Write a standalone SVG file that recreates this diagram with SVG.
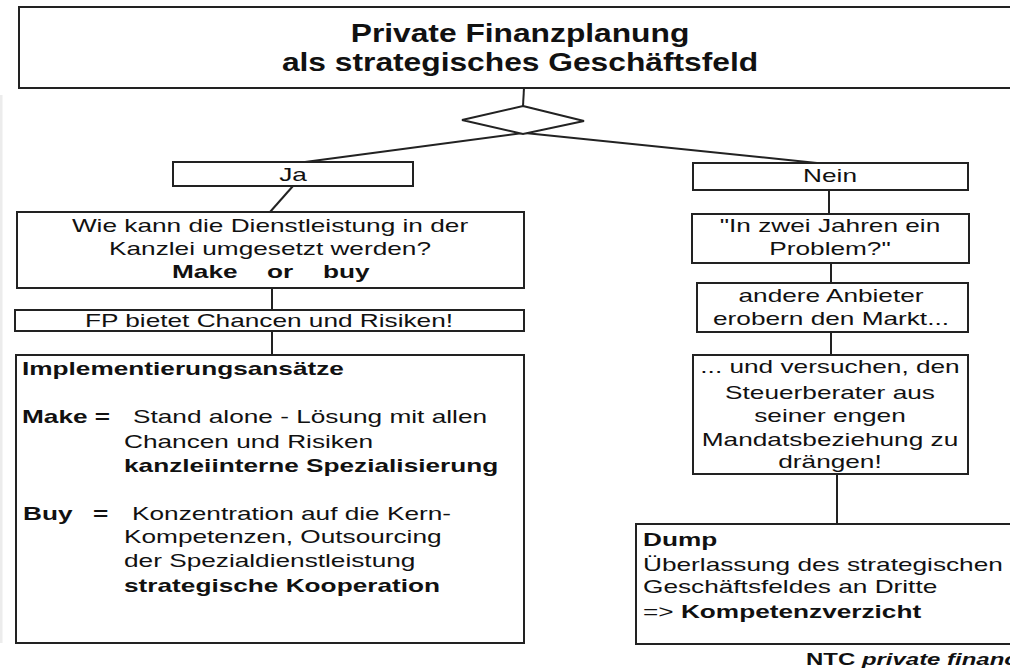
<svg xmlns="http://www.w3.org/2000/svg" width="1010" height="669" viewBox="0 0 1010 669">
<style>
.box{fill:#fff;stroke:#222;stroke-width:2}
.ln{fill:none;stroke:#222;stroke-width:2}
.t{font-family:"Liberation Sans",Arial,sans-serif;font-size:18.6px;fill:#111}
.b{font-family:"Liberation Sans",Arial,sans-serif;font-size:18.6px;font-weight:bold;fill:#111}
.h{font-family:"Liberation Sans",Arial,sans-serif;font-size:25px;font-weight:bold;fill:#111}
.m{text-anchor:middle}
</style>
<rect width="1010" height="669" fill="#fff"/>
<rect x="0" y="95" width="2.5" height="548" fill="#ececec"/>
<g id="connectors">
<line class="ln" x1="524" y1="88" x2="523" y2="106"/>
<line class="ln" x1="523" y1="133" x2="305" y2="162"/>
<line class="ln" x1="525" y1="133" x2="817" y2="163"/>
<line class="ln" x1="293" y1="186" x2="270" y2="212"/>
<line class="ln" x1="272" y1="288" x2="272" y2="310"/>
<line class="ln" x1="272" y1="331" x2="272" y2="355"/>
<line class="ln" x1="829" y1="190" x2="829" y2="214"/>
<line class="ln" x1="831" y1="263" x2="831" y2="283"/>
<line class="ln" x1="831" y1="332" x2="831" y2="355"/>
<line class="ln" x1="837" y1="474" x2="837" y2="524"/>
</g>
<g id="title">
<rect class="box" x="19" y="7" width="1010" height="81"/>
<text class="h m" transform="matrix(1.27 0 0 1 520 42)">Private Finanzplanung</text>
<text class="h m" transform="matrix(1.27 0 0 1 520 71)">als strategisches Geschäftsfeld</text>
</g>
<g id="decision">
<polygon class="box" points="523,106 584,121 523,134 462,120"/>
</g>
<g id="ja">
<rect class="box" x="173" y="162" width="240" height="24"/>
<text class="t m" transform="matrix(1.41 0 0 1 293 181)">Ja</text>
</g>
<g id="nein">
<rect class="box" x="693" y="163" width="275" height="27"/>
<text class="t m" transform="matrix(1.41 0 0 1 830 182)">Nein</text>
</g>
<g id="wie">
<rect class="box" x="17" y="212" width="507" height="76"/>
<text class="t m" transform="matrix(1.41 0 0 1 270 231.7)">Wie kann die Dienstleistung in der</text>
<text class="t m" transform="matrix(1.41 0 0 1 270 255)">Kanzlei umgesetzt werden?</text>
<text class="b" transform="matrix(1.41 0 0 1 172 278)">Make</text>
<text class="b" transform="matrix(1.41 0 0 1 267 278)">or</text>
<text class="b" transform="matrix(1.41 0 0 1 323 278)">buy</text>
</g>
<g id="fp">
<rect class="box" x="15" y="310" width="509" height="21"/>
<text class="t m" transform="matrix(1.41 0 0 1 269 326.7)">FP bietet Chancen und Risiken!</text>
</g>
<g id="impl">
<rect class="box" x="16" y="355" width="508" height="288"/>
<text class="b" transform="matrix(1.41 0 0 1 22 375)">Implementierungsansätze</text>
<text class="b" transform="matrix(1.41 0 0 1 22 423)">Make =</text>
<text class="t" transform="matrix(1.41 0 0 1 133 423)">Stand alone - Lösung mit allen</text>
<text class="t" transform="matrix(1.41 0 0 1 124 448)">Chancen und Risiken</text>
<text class="b" transform="matrix(1.41 0 0 1 124 472)">kanzleiinterne Spezialisierung</text>
<text class="b" transform="matrix(1.41 0 0 1 23 520)">Buy</text>
<text class="b" transform="matrix(1.41 0 0 1 93 520)">=</text>
<text class="t" transform="matrix(1.41 0 0 1 132 520)">Konzentration auf die Kern-</text>
<text class="t" transform="matrix(1.41 0 0 1 124 543)">Kompetenzen, Outsourcing</text>
<text class="t" transform="matrix(1.41 0 0 1 124 567)">der Spezialdienstleistung</text>
<text class="b" transform="matrix(1.41 0 0 1 124 592)">strategische Kooperation</text>
</g>
<g id="problem">
<rect class="box" x="692" y="214" width="277" height="49"/>
<text class="t m" transform="matrix(1.41 0 0 1 830 232)">"In zwei Jahren ein</text>
<text class="t m" transform="matrix(1.41 0 0 1 830 255)">Problem?"</text>
</g>
<g id="anbieter">
<rect class="box" x="697" y="283" width="271" height="49"/>
<text class="t m" transform="matrix(1.41 0 0 1 831 302)">andere Anbieter</text>
<text class="t m" transform="matrix(1.41 0 0 1 831 325)">erobern den Markt...</text>
</g>
<g id="versuchen">
<rect class="box" x="693" y="355" width="275" height="119"/>
<text class="t m" transform="matrix(1.41 0 0 1 830 373)">... und versuchen, den</text>
<text class="t m" transform="matrix(1.41 0 0 1 830 399)">Steuerberater aus</text>
<text class="t m" transform="matrix(1.41 0 0 1 830 422)">seiner engen</text>
<text class="t m" transform="matrix(1.41 0 0 1 830 446)">Mandatsbeziehung zu</text>
<text class="t m" transform="matrix(1.41 0 0 1 830 468)">drängen!</text>
</g>
<g id="dump">
<rect class="box" x="636" y="524" width="400" height="120"/>
<text class="b" transform="matrix(1.41 0 0 1 643 546)">Dump</text>
<text class="t" transform="matrix(1.41 0 0 1 643 571)">Überlassung des strategischen</text>
<text class="t" transform="matrix(1.41 0 0 1 643 593)">Geschäftsfeldes an Dritte</text>
<text class="t" transform="matrix(1.41 0 0 1 643 618)">=&gt; <tspan font-weight="bold">Kompetenzverzicht</tspan></text>
</g>
<g id="footer">
<text class="b" style="font-size:17px" transform="matrix(1.41 0 0 1 806 665)">NTC <tspan font-style="italic">private finance</tspan></text>
</g>
</svg>
